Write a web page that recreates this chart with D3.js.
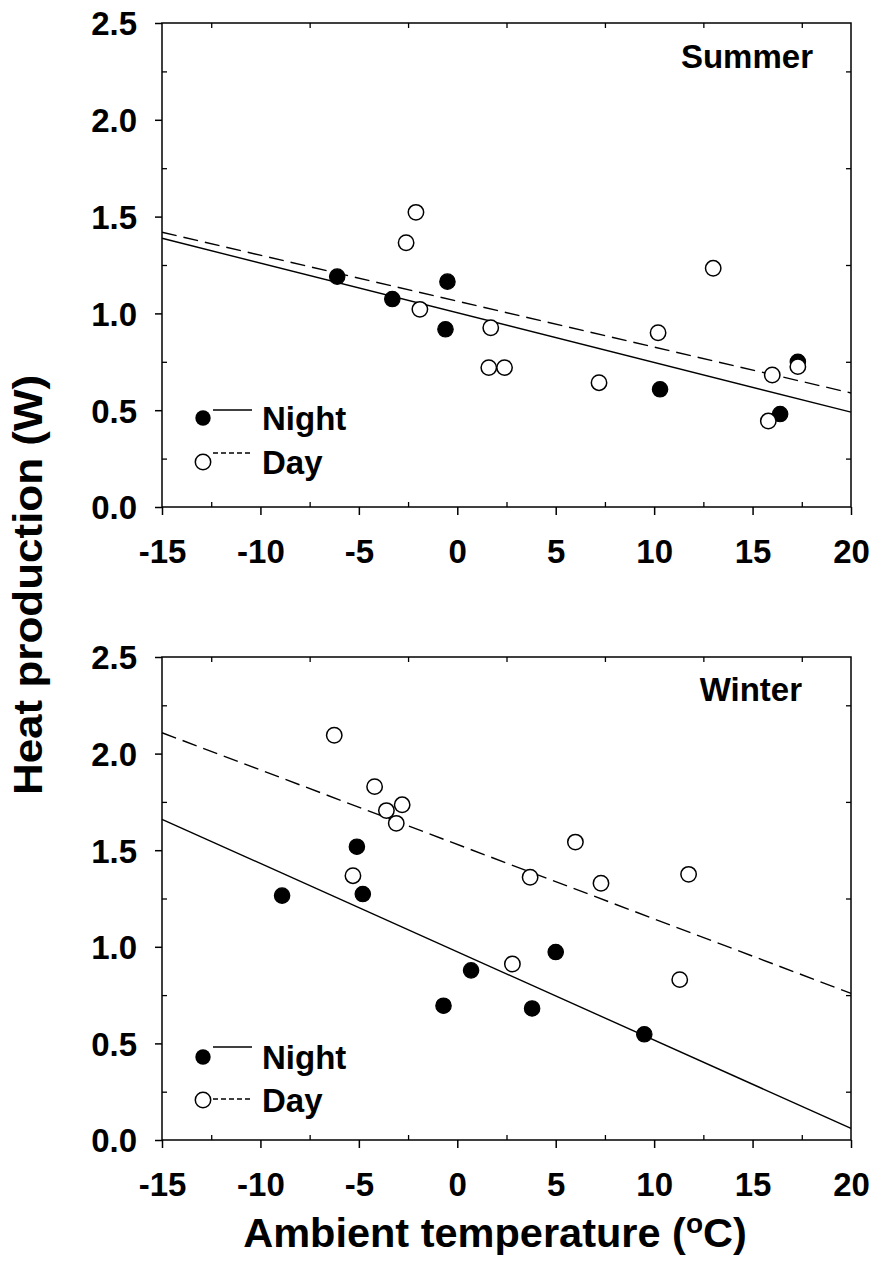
<!DOCTYPE html>
<html>
<head>
<meta charset="utf-8">
<script src="https://cdn.jsdelivr.net/npm/d3@7"></script>
<style>
  html, body { margin: 0; padding: 0; background: #fff; }
  svg { display: block; }
  text { font-family: "Liberation Sans", Arial, sans-serif; font-weight: bold; fill: #000; }
</style>
</head>
<body>
<svg id="chart" width="874" height="1273"></svg>
<script>
// ---------------- DATA ----------------
const xTicks = [-15, -10, -5, 0, 5, 10, 15, 20];
const yTicks = [0.0, 0.5, 1.0, 1.5, 2.0, 2.5];
const xMinor = [-12.5, -7.5, -2.5, 2.5, 7.5, 12.5, 17.5];
const yMinor = [0.25, 0.75, 1.25, 1.75, 2.25];

// Summer
const summerNightT = [-6.1, -3.3, -0.5, -0.6, 10.3, 17.3, 16.4];
const summerNightH = [1.19, 1.074, 1.164, 0.918, 0.608, 0.75, 0.48];
const summerDayT = [-2.1, -2.6, -1.9, 1.7, 1.6, 2.4, 7.2, 10.2, 13.0, 16.0, 17.3, 15.8];
const summerDayH = [1.522, 1.365, 1.021, 0.926, 0.72, 0.72, 0.642, 0.90, 1.233, 0.682, 0.725, 0.444];
const summerNightFitT = [-15, 20];
const summerNightFitH = [1.388, 0.49];
const summerDayFitT = [-15, 20];
const summerDayFitH = [1.419, 0.589];

// Winter
const winterNightT = [-8.9, -4.8, -5.1, -0.7, 0.7, 3.8, 5.0, 9.5];
const winterNightH = [1.265, 1.273, 1.518, 0.695, 0.878, 0.681, 0.973, 0.547];
const winterDayT = [-6.25, -4.2, -3.6, -2.8, -3.1, -5.3, 3.7, 6.0, 7.3, 11.75, 2.8, 11.3];
const winterDayH = [2.095, 1.829, 1.705, 1.735, 1.639, 1.368, 1.36, 1.542, 1.329, 1.375, 0.911, 0.83];
const winterNightFitT = [-15, 20];
const winterNightFitH = [1.66, 0.06];
const winterDayFitT = [-15, 20];
const winterDayFitH = [2.108, 0.759];

const seriesNames = ["Night", "Day"];
const panelTitles = ["Summer", "Winter"];
const xTitle = "Ambient temperature (";
const xTitleSup = "o";
const xTitleEnd = "C)";
const yTitle = "Heat production (W)";

// ---------------- LAYOUT ----------------
const svg = d3.select("#chart");
const left = 162, right = 851;
const panels = [
  { top: 23, bottom: 507, title: panelTitles[0], titleRight: 813, titleBase: 68,
    night: [summerNightT, summerNightH], day: [summerDayT, summerDayH],
    nightFit: [summerNightFitT, summerNightFitH], dayFit: [summerDayFitT, summerDayFitH],
    leg: { nightY: 418, dayY: 462, nightLineOff: -8, dayLineOff: -9 } },
  { top: 657, bottom: 1140, title: panelTitles[1], titleRight: 802, titleBase: 701,
    night: [winterNightT, winterNightH], day: [winterDayT, winterDayH],
    nightFit: [winterNightFitT, winterNightFitH], dayFit: [winterDayFitT, winterDayFitH],
    leg: { nightY: 1057, dayY: 1100, nightLineOff: -10, dayLineOff: -1 } }
];

const x = d3.scaleLinear().domain([-15, 20]).range([left, right]);
const R = 7.7;
const fs = 33;

panels.forEach(p => {
  const y = d3.scaleLinear().domain([0, 2.5]).range([p.bottom, p.top]);
  const g = svg.append("g");

  // regression lines
  const line = d3.line().x(d => x(d[0])).y(d => y(d[1]));
  const fitPts = f => f[0].map((t, i) => [t, f[1][i]]);
  g.append("path").attr("d", line(fitPts(p.nightFit)))
    .attr("fill", "none").attr("stroke", "#000").attr("stroke-width", 1.4);
  g.append("path").attr("d", line(fitPts(p.dayFit)))
    .attr("fill", "none").attr("stroke", "#000").attr("stroke-width", 1.4)
    .attr("stroke-dasharray", "15,7");

  // points
  g.selectAll("circle.night").data(p.night[0].map((t, i) => [t, p.night[1][i]]))
    .enter().append("circle").attr("class", "night")
    .attr("cx", d => x(d[0])).attr("cy", d => y(d[1])).attr("r", R)
    .attr("fill", "#000").attr("stroke", "#000").attr("stroke-width", 1.2);
  g.selectAll("circle.day").data(p.day[0].map((t, i) => [t, p.day[1][i]]))
    .enter().append("circle").attr("class", "day")
    .attr("cx", d => x(d[0])).attr("cy", d => y(d[1])).attr("r", R)
    .attr("fill", "#fff").attr("stroke", "#000").attr("stroke-width", 1.5);

  // frame
  g.append("rect").attr("x", left).attr("y", p.top)
    .attr("width", right - left).attr("height", p.bottom - p.top)
    .attr("fill", "none").attr("stroke", "#000").attr("stroke-width", 1.5);

  // bottom axis major (outward) with labels
  const axB = g.append("g").attr("transform", `translate(0,${p.bottom})`)
    .call(d3.axisBottom(x).tickValues(xTicks).tickSize(8).tickSizeOuter(0).tickPadding(25).tickFormat(d => String(d)));
  axB.select(".domain").remove();
  axB.selectAll("line").attr("stroke-width", 1.5);
  axB.selectAll("text").attr("font-size", fs).attr("font-family", null).attr("dy", "0.71em");
  // bottom minor (inward)
  const axBm = g.append("g").attr("transform", `translate(0,${p.bottom})`)
    .call(d3.axisBottom(x).tickValues(xMinor).tickSize(-5).tickSizeOuter(0).tickFormat(""));
  axBm.select(".domain").remove();
  axBm.selectAll("line").attr("stroke-width", 1.3);
  // top minor (inward)
  const axT = g.append("g").attr("transform", `translate(0,${p.top})`)
    .call(d3.axisTop(x).tickValues(xMinor).tickSize(-5).tickSizeOuter(0).tickFormat(""));
  axT.select(".domain").remove();
  axT.selectAll("line").attr("stroke-width", 1.3);

  // left axis major (outward)
  const axL = g.append("g").attr("transform", `translate(${left},0)`)
    .call(d3.axisLeft(y).tickValues(yTicks).tickSize(7).tickSizeOuter(0).tickPadding(18).tickFormat(d3.format(".1f")));
  axL.select(".domain").remove();
  axL.selectAll("line").attr("stroke-width", 1.5);
  axL.selectAll("text").attr("font-size", fs).attr("font-family", null).attr("dy", "0.36em");
  const axLm = g.append("g").attr("transform", `translate(${left},0)`)
    .call(d3.axisLeft(y).tickValues(yMinor).tickSize(-5).tickSizeOuter(0).tickFormat(""));
  axLm.select(".domain").remove();
  axLm.selectAll("line").attr("stroke-width", 1.3);
  const axR = g.append("g").attr("transform", `translate(${right},0)`)
    .call(d3.axisRight(y).tickValues(yMinor).tickSize(-5).tickSizeOuter(0).tickFormat(""));
  axR.select(".domain").remove();
  axR.selectAll("line").attr("stroke-width", 1.3);

  // panel title
  g.append("text").attr("x", p.titleRight).attr("y", p.titleBase)
    .attr("text-anchor", "end").attr("font-size", fs).text(p.title);

  // legend
  const lx = 203, l1 = 213, l2 = 252, tx = 262;
  const L = p.leg;
  g.append("circle").attr("cx", lx).attr("cy", L.nightY).attr("r", R).attr("fill", "#000");
  g.append("line").attr("x1", l1).attr("x2", l2).attr("y1", L.nightY + L.nightLineOff).attr("y2", L.nightY + L.nightLineOff)
    .attr("stroke", "#000").attr("stroke-width", 1.5);
  g.append("text").attr("x", tx).attr("y", L.nightY + 12).attr("font-size", fs).text(seriesNames[0]);
  g.append("circle").attr("cx", lx).attr("cy", L.dayY).attr("r", R).attr("fill", "#fff")
    .attr("stroke", "#000").attr("stroke-width", 1.5);
  g.append("line").attr("x1", l1).attr("x2", l2).attr("y1", L.dayY + L.dayLineOff).attr("y2", L.dayY + L.dayLineOff)
    .attr("stroke", "#000").attr("stroke-width", 1.5).attr("stroke-dasharray", "5,3");
  g.append("text").attr("x", tx).attr("y", L.dayY + 12).attr("font-size", fs).text(seriesNames[1]);
});

// axis titles
const xt = svg.append("text").attr("x", 495).attr("y", 1247)
  .attr("text-anchor", "middle").attr("font-size", 41.5);
xt.append("tspan").text(xTitle);
xt.append("tspan").attr("font-size", 28).attr("dy", -14).text(xTitleSup);
xt.append("tspan").attr("dy", 14).text(xTitleEnd);

svg.append("text").attr("transform", "translate(42,585) rotate(-90) scale(1.1,1)")
  .attr("text-anchor", "middle").attr("font-size", 40).text(yTitle);
</script>
</body>
</html>
